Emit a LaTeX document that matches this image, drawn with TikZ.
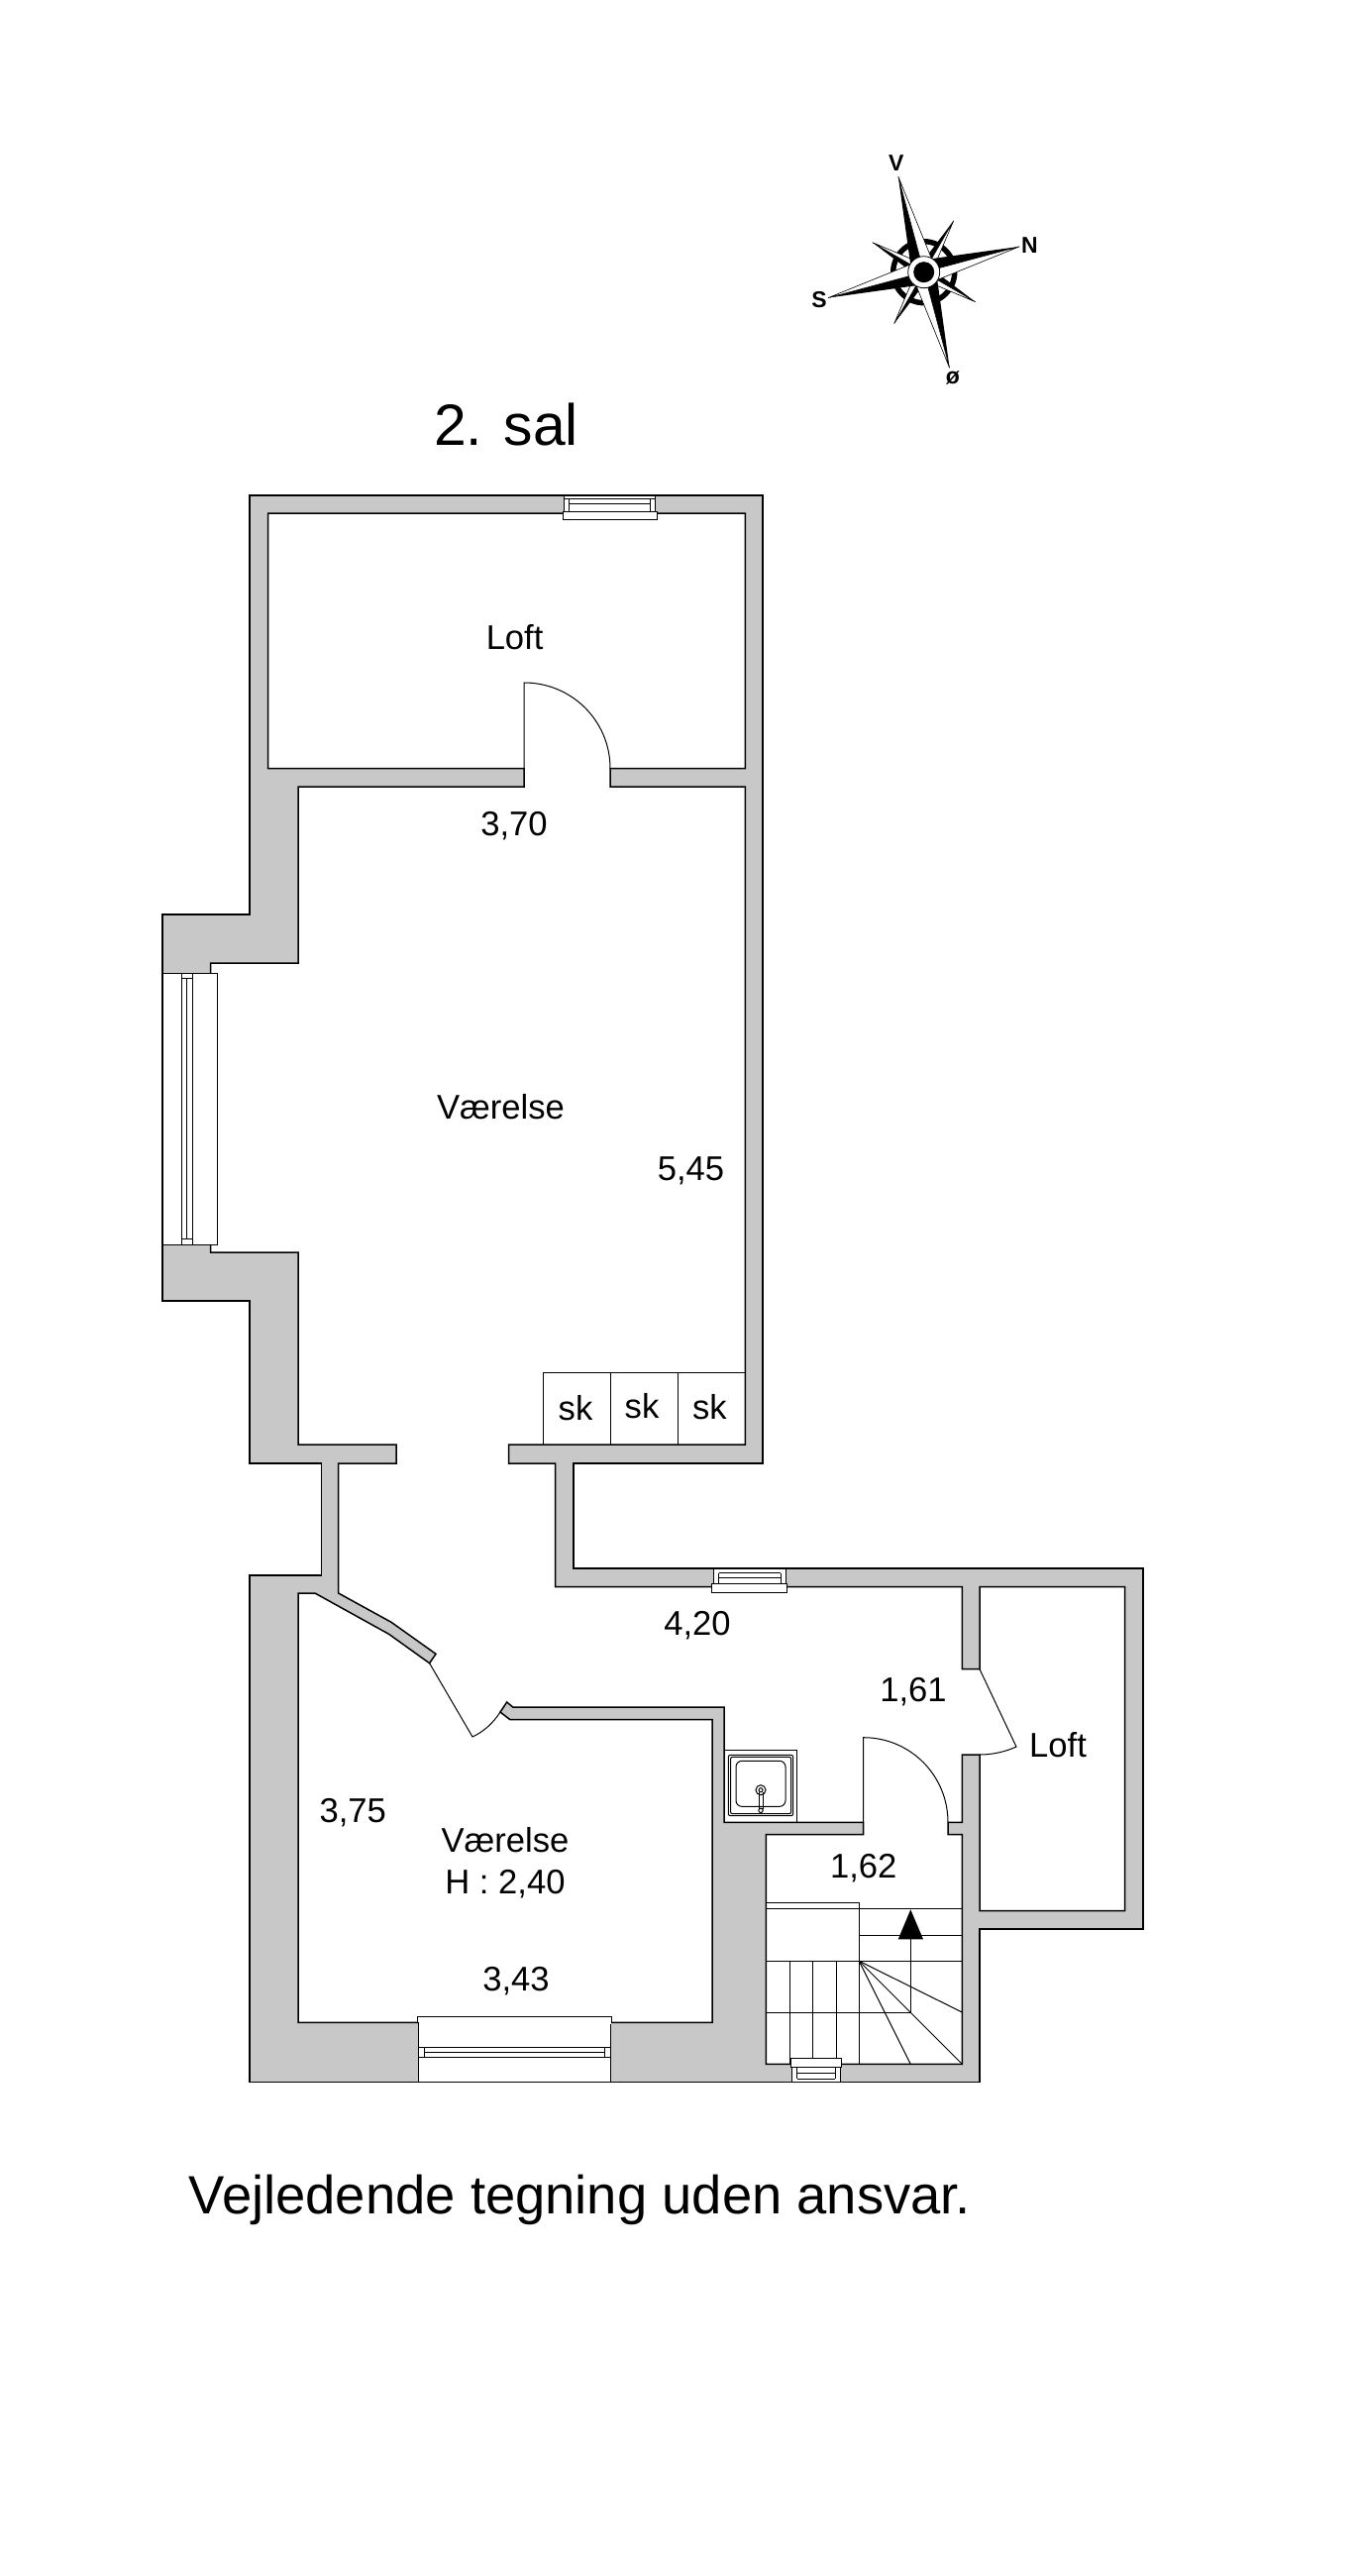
\documentclass[tikz,border=0pt]{standalone}
\usepackage{fontspec}
\setmainfont{Liberation Sans}
\definecolor{wallgray}{HTML}{C8C8C8}
\tikzset{
  wall/.style={draw=black,line width=0.75pt,line join=miter},
  thin line/.style={draw=black,line width=0.5pt},
  winbox/.style={draw=black,fill=white,line width=0.5pt},
  lbl/.style={font=\fontsize{17.3}{20}\selectfont,anchor=base,inner sep=0pt},
  compasslbl/.style={font=\fontsize{11.5}{13}\selectfont\bfseries,anchor=center,inner sep=0pt},
}
\begin{document}
\begin{tikzpicture}[x=0.5pt,y=-0.5pt]
\useasboundingbox (0,0) rectangle (1373,2600);
% walls: outer outline
\draw[wall,fill=wallgray] (252,500) -- (770,500) -- (770,1477) -- (579,1477) -- (579,1583) -- (1154,1583) -- (1154,1947) -- (989,1947) -- (989,2101.3) -- (252,2101.3) -- (252,1590) -- (324.5,1590) -- (324.5,1477) -- (252,1477) -- (252,1313) -- (164,1313) -- (164,923) -- (252,923) -- cycle;
% interior
\draw[wall,fill=white] (270.5,518) -- (752.4,518) -- (752.4,775.5) -- (616,775.5) -- (616,794) -- (752.4,794) -- (752.4,1458) -- (513.6,1458) -- (513.6,1477) -- (560.6,1477) -- (560.6,1601.7) -- (971.3,1601.7) -- (971.3,1684.7) -- (989,1684.7) -- (989,1601.7) -- (1135.6,1601.7) -- (1135.6,1928.7) -- (989,1928.7) -- (989,1771) -- (971.3,1771) -- (971.3,1839.3) -- (957,1839.3) -- (957,1851.7) -- (971.3,1851.7) -- (971.3,2083.3) -- (773.3,2083.3) -- (773.3,1851.7) -- (871.7,1851.7) -- (871.7,1839.3) -- (731,1839.3) -- (731,1723) -- (517.8,1723) -- (511.7,1718) -- (505,1728) -- (515,1735.7) -- (719,1735.7) -- (719,2041.3) -- (301,2041.3) -- (301,1608) -- (318,1608) -- (392.6,1649.3) -- (433.6,1678.7) -- (440,1669.3) -- (395,1637.3) -- (341.7,1608) -- (341.7,1477) -- (400,1477) -- (400,1458) -- (301,1458) -- (301,1264) -- (212.7,1264) -- (212.7,972) -- (301,972) -- (301,794) -- (529,794) -- (529,775.5) -- (270.5,775.5) -- cycle;
% doors
\draw[thin line] (529,775.5) -- (529,689) .. controls (577,689) and (616,727.5) .. (616,775.5);
\draw[thin line] (871.7,1839.3) -- (871.7,1753.7) .. controls (919,1753.7) and (957,1792) .. (957,1839.3);
\draw[thin line] (433.6,1678.7) -- (477,1753) .. controls (488,1748) and (498,1739) .. (505,1728);
\draw[thin line] (989,1684.7) -- (1026,1763) .. controls (1015,1768) and (1002,1771) .. (989,1771);
% closets
\draw[thin line] (548.8,1458) -- (548.8,1385) -- (752.4,1385);
\draw[thin line] (616.5,1385) -- (616.5,1458);
\draw[thin line] (684,1385) -- (684,1458);
% stairs
\draw[thin line] (773.3,1920.7) -- (867.3,1920.7) -- (867.3,2083.3);
\draw[thin line] (773.3,1926.7) -- (971.3,1926.7);
\draw[thin line] (867.3,1953.3) -- (971.3,1953.3);
\draw[thin line] (773.3,1979.3) -- (971.3,1979.3);
\draw[thin line] (773.3,2031) -- (919.3,2031);
\draw[thin line] (797,1979.3) -- (797,2083.3);
\draw[thin line] (820.7,1979.3) -- (820.7,2083.3);
\draw[thin line] (844,1979.3) -- (844,2083.3);
\draw[thin line] (867.3,1979.3) -- (971.3,2031);
\draw[thin line] (867.3,1979.3) -- (971.3,2083.3);
\draw[thin line] (867.3,1979.3) -- (919.3,2083.3);
\draw[thin line] (919.3,2031) -- (919.3,1957.3);
\fill[black] (919.3,1927.3) -- (932,1957.3) -- (906.7,1957.3) -- cycle;
% sink
\draw[thin line] (731.3,1766) rectangle (804.7,1839.3);
\draw[thin line,rounded corners=1pt] (735.3,1771.3) rectangle (800.7,1832.7);
\draw[thin line,rounded corners=1pt] (737.5,1773.3) rectangle (798.7,1830.7);
\draw[thin line,rounded corners=3pt] (743,1777.3) rectangle (793,1823.3);
\draw[thin line] (766,1809) -- (766,1826);
\draw[thin line] (770,1809) -- (770,1826);
\draw[thin line] (768,1806.7) circle[radius=5];
\draw[thin line] (768,1806.7) circle[radius=2];
\draw[thin line] (768,1827.3) circle[radius=2.2];
% windows
\draw[winbox] (569.3,500) rectangle (661,516);
\draw[winbox] (568,516) rectangle (663,524);
\draw[thin line] (569.3,503.4) -- (661,503.4);
\draw[thin line] (574.8,508.6) -- (656.4,508.6);
\draw[thin line] (574.8,503.4) -- (574.8,516);
\draw[thin line] (656.4,503.4) -- (656.4,516);
\draw[winbox] (720,1583) rectangle (793.7,1598);
\draw[winbox] (718.7,1598) rectangle (794.6,1607.7);
\draw[thin line] (725.5,1587.7) -- (788,1587.7);
\draw[thin line] (725.5,1592.7) -- (788,1592.7);
\draw[thin line] (725.5,1587.7) -- (725.5,1598);
\draw[thin line] (788,1587.7) -- (788,1598);
\draw[winbox] (798.7,2077.3) rectangle (849.3,2086.7);
\draw[winbox] (799.5,2086.7) rectangle (848.6,2101.3);
\draw[thin line] (804.7,2092.3) -- (843.3,2092.3);
\draw[thin line] (804.7,2098) -- (843.3,2098);
\draw[thin line] (804.7,2086.7) -- (804.7,2098);
\draw[thin line] (843.3,2086.7) -- (843.3,2098);
\draw[winbox] (421.4,2035) rectangle (617.5,2041.3);
\draw[winbox] (422.5,2041.3) rectangle (616.8,2101.3);
\fill[white] (423,2034) rectangle (616.5,2043);
\draw[thin line] (421.4,2035) -- (617.5,2035);
\draw[thin line] (422.5,2066) -- (616.8,2066);
\draw[thin line] (428,2071.3) -- (610.7,2071.3);
\draw[thin line] (422.5,2076.7) -- (616.8,2076.7);
\draw[thin line] (428,2066) -- (428,2076.7);
\draw[thin line] (610.7,2066) -- (610.7,2076.7);
\draw[winbox] (164.3,982) rectangle (219,1256);
\draw[thin line] (183,982) -- (183,1256);
\draw[thin line] (194,982) -- (194,1256);
\draw[thin line] (188.7,987) -- (188.7,1250);
\draw[thin line] (183,987) -- (194,987);
\draw[thin line] (183,1250) -- (194,1250);
% compass
\begin{scope}[shift={(932.7,274.7)}]
\draw[line width=2.7pt] (0,0) circle[radius=31];
\foreach \a in {-60,30,120,210}{
  \fill[black] (\a:60) -- (\a-35:11) -- (0,0) -- cycle;
  \draw[fill=white,line width=0.3pt] (\a:60) -- (\a+35:11) -- (0,0) -- cycle;
}
\foreach \a in {-15,75,165,255}{
  \fill[black] (\a:100) -- (\a-48:15) -- (0,0) -- cycle;
  \draw[fill=white,line width=0.3pt] (\a:100) -- (\a+48:15) -- (0,0) -- cycle;
}
\fill[white] (0,0) circle[radius=16];
\draw[line width=0.4pt] (0,0) circle[radius=16];
\fill[black] (0,0) circle[radius=10.5];
\end{scope}
\node[compasslbl] (cv) at (904.7,165) {V};
\node[compasslbl] (cn) at (1039.3,247.3) {N};
\node[compasslbl] (cs) at (827,302.7) {S};
\node[compasslbl] (co) at (962,381) {ø};
% labels
\node[font=\fontsize{29.4}{34}\selectfont,anchor=base,inner sep=0pt] (title) at (511,449.5) {2. sal};
\node[lbl] (loft1) at (519.6,655) {Loft};
\node[lbl] (d370) at (519,843.5) {3,70};
\node[lbl] (room1) at (505.5,1129.5) {Værelse};
\node[lbl] (d545) at (697.5,1191.5) {5,45};
\node[lbl] (sk1) at (581,1433) {sk};
\node[lbl] (sk2) at (648,1431) {sk};
\node[lbl] (sk3) at (716.4,1432) {sk};
\node[lbl] (d420) at (704,1650) {4,20};
\node[lbl] (d161) at (922,1717) {1,61};
\node[lbl] (loft2) at (1068,1773) {Loft};
\node[lbl] (d375) at (356.3,1839.3) {3,75};
\node[lbl] (room2) at (510,1869) {Værelse};
\node[lbl] (height) at (510,1911) {H : 2,40};
\node[lbl] (d162) at (871.7,1895) {1,62};
\node[lbl] (d343) at (521,2009) {3,43};
\node[font=\fontsize{27.2}{32}\selectfont,anchor=base,inner sep=0pt] (note) at (585.5,2234) {Vejledende tegning uden ansvar.};
\end{tikzpicture}
\end{document}
